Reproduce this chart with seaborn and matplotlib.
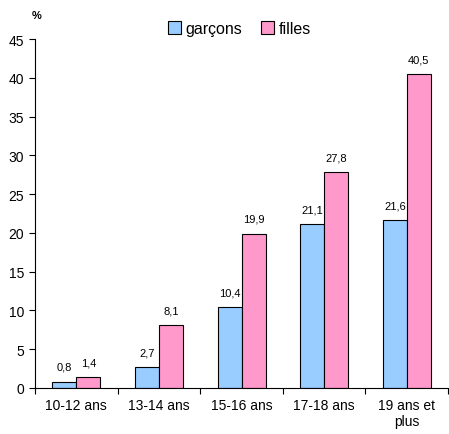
import pandas as pd
import seaborn as sns
import matplotlib.pyplot as plt
from matplotlib.ticker import FixedLocator

categories = ['10-12 ans', '13-14 ans', '15-16 ans', '17-18 ans', '19 ans et\nplus']
garcons = [0.8, 2.7, 10.4, 21.1, 21.6]
filles = [1.4, 8.1, 19.9, 27.8, 40.5]

df = pd.DataFrame({
    'age': categories * 2,
    'valeur': garcons + filles,
    'sexe': ['garçons'] * 5 + ['filles'] * 5,
})

sns.set_style('white')
plt.rcParams['font.family'] = ['Liberation Sans', 'DejaVu Sans']
plt.rcParams['text.color'] = 'black'
plt.rcParams['xtick.color'] = 'black'
plt.rcParams['ytick.color'] = 'black'

fig = plt.figure(figsize=(4.49, 4.35), dpi=100)
ax = fig.add_axes([0.078, 0.106, 0.92, 0.802])

sns.barplot(data=df, x='age', y='valeur', hue='sexe',
            palette={'garçons': '#99CCFF', 'filles': '#FF99CC'}, saturation=1,
            edgecolor='black', linewidth=0.8, width=0.58, ax=ax)

for cont in ax.containers:
    ax.bar_label(cont, labels=[f'{v:.1f}'.replace('.', ',') for v in cont.datavalues],
                 padding=7, fontsize=8)

ax.set_ylim(0, 45)
ax.set_yticks(range(0, 46, 5))
ax.set_xlim(-0.5, 4.5)
ax.set_xlabel('')
ax.set_ylabel('')
ax.tick_params(axis='y', which='major', direction='out', length=4, width=0.8,
               left=True, labelsize=10, pad=4)
ax.tick_params(axis='x', which='major', length=0, labelsize=10, pad=7)
ax.xaxis.set_minor_locator(FixedLocator([-0.5, 0.5, 1.5, 2.5, 3.5, 4.5]))
ax.tick_params(axis='x', which='minor', direction='out', length=4, width=0.8, bottom=True)

sns.despine(ax=ax)
for s in ['left', 'bottom']:
    ax.spines[s].set_color('black')
    ax.spines[s].set_linewidth(0.8)

ax.text(0.005, 1.06, '%', transform=ax.transAxes, fontsize=8, fontweight='bold',
        ha='center')

leg = ax.legend(loc='lower center', bbox_to_anchor=(0.495, 0.99), ncol=2, frameon=False,
                fontsize=11.5, handlelength=0.8, handleheight=0.8, handletextpad=0.3,
                columnspacing=1.2, borderaxespad=0.0)

fig.savefig('out.png', dpi=100)
